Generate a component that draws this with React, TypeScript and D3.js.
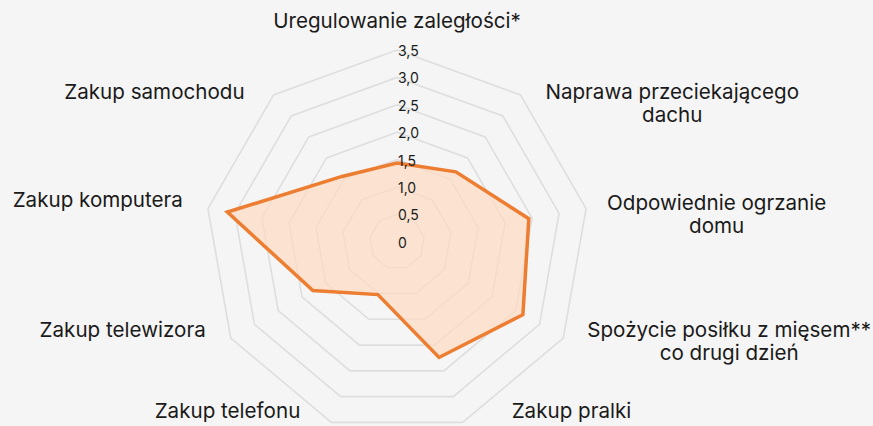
import React, { useMemo } from "react";
import * as d3 from "d3";

const categories: string[][] = [
  ["Uregulowanie zaległości*"],
  ["Naprawa przeciekającego", "dachu"],
  ["Odpowiednie ogrzanie", "domu"],
  ["Spożycie posiłku z mięsem**", "co drugi dzień"],
  ["Zakup pralki"],
  ["Zakup telefonu"],
  ["Zakup telewizora"],
  ["Zakup komputera"],
  ["Zakup samochodu"],
];
const values: number[] = [1.44, 1.67, 2.44, 2.65, 2.24, 1.02, 1.77, 3.14, 1.56];
const tickValues: number[] = [0, 0.5, 1, 1.5, 2, 2.5, 3, 3.5];
const tickLabels: string[] = ["0", "0,5", "1,0", "1,5", "2,0", "2,5", "3,0", "3,5"];

// layout (not data)
const W = 873;
const H = 426;
const CX = 397;
const CY = 242;
const R = 192;
const FONT = "Inter, 'Noto Sans', sans-serif";
const LABEL_SIZE = 20.6;
const LINE_H = 23;
// per-axis label offset from outer vertex: [dx, dy(center of block)]
const labelOffsets: [number, number][] = [
  [0, -28],
  [25, 10],
  [21, 7],
  [24, 5],
  [49, -10],
  [-31, -10],
  [-25, -7],
  [-25, -7],
  [-29, -2],
];

function measure(text: string, size: number): number {
  const c = document.createElement("canvas").getContext("2d");
  if (!c) return text.length * size * 0.55;
  c.font = `${size}px ${FONT}`;
  return c.measureText(text).width;
}

export default function App() {
  const n = categories.length;
  const angle = d3.scaleLinear().domain([0, n]).range([0, 2 * Math.PI]);
  const r = d3.scaleLinear().domain([0, 3.5]).range([0, R]);

  const ringLine = d3
    .lineRadial<number>()
    .angle((_, i) => angle(i))
    .radius((d) => r(d))
    .curve(d3.curveLinearClosed);

  const dataLine = d3
    .lineRadial<number>()
    .angle((_, i) => angle(i))
    .radius((d) => r(d))
    .curve(d3.curveLinearClosed);

  const labels = useMemo(
    () =>
      categories.map((lines, i) => {
        const a = angle(i);
        const vx = CX + r(3.5) * Math.sin(a);
        const vy = CY - r(3.5) * Math.cos(a);
        const [dx, dy] = labelOffsets[i];
        const widths = lines.map((l) => measure(l, LABEL_SIZE));
        const bw = Math.max(...widths);
        const s = Math.sin(a);
        let cx: number;
        if (s > 0.1) cx = vx + dx + bw / 2;
        else if (s < -0.1) cx = vx + dx - bw / 2;
        else cx = vx + dx;
        const cy = vy + dy;
        const y0 = cy - ((lines.length - 1) * LINE_H) / 2;
        return { lines, cx, y0 };
      }),
    []
  );

  return (
    <svg
      width={W}
      height={H}
      style={{ position: "fixed", left: 0, top: 0, background: "#f5f5f5" }}
    >
      <rect x={0} y={0} width={W} height={H} fill="#f5f5f5" />
      <g transform={`translate(${CX},${CY})`}>
        {tickValues.slice(1).map((t) => (
          <path
            key={t}
            d={ringLine(new Array(n).fill(t)) || ""}
            fill="none"
            stroke="#dedede"
            strokeWidth={1.6}
          />
        ))}
        <path
          d={dataLine(values) || ""}
          fill="#ffdcc2"
          fillOpacity={0.7}
          stroke="#ED7D31"
          strokeWidth={3.5}
          strokeLinejoin="miter"
        />
        {tickValues.map((t, i) => (
          <text
            key={t}
            x={1}
            y={-r(t) + 2}
            dominantBaseline="middle"
            fontFamily={FONT}
            fontSize={14}
            fill="#1a1a1a"
          >
            {tickLabels[i]}
          </text>
        ))}
      </g>
      {labels.map((lb, i) => (
        <text
          key={i}
          textAnchor="middle"
          fontFamily={FONT}
          fontSize={LABEL_SIZE}
          fill="#1a1a1a"
        >
          {lb.lines.map((l, j) => (
            <tspan key={j} x={lb.cx} y={lb.y0 + j * LINE_H} dominantBaseline="middle">
              {l}
            </tspan>
          ))}
        </text>
      ))}
    </svg>
  );
}
